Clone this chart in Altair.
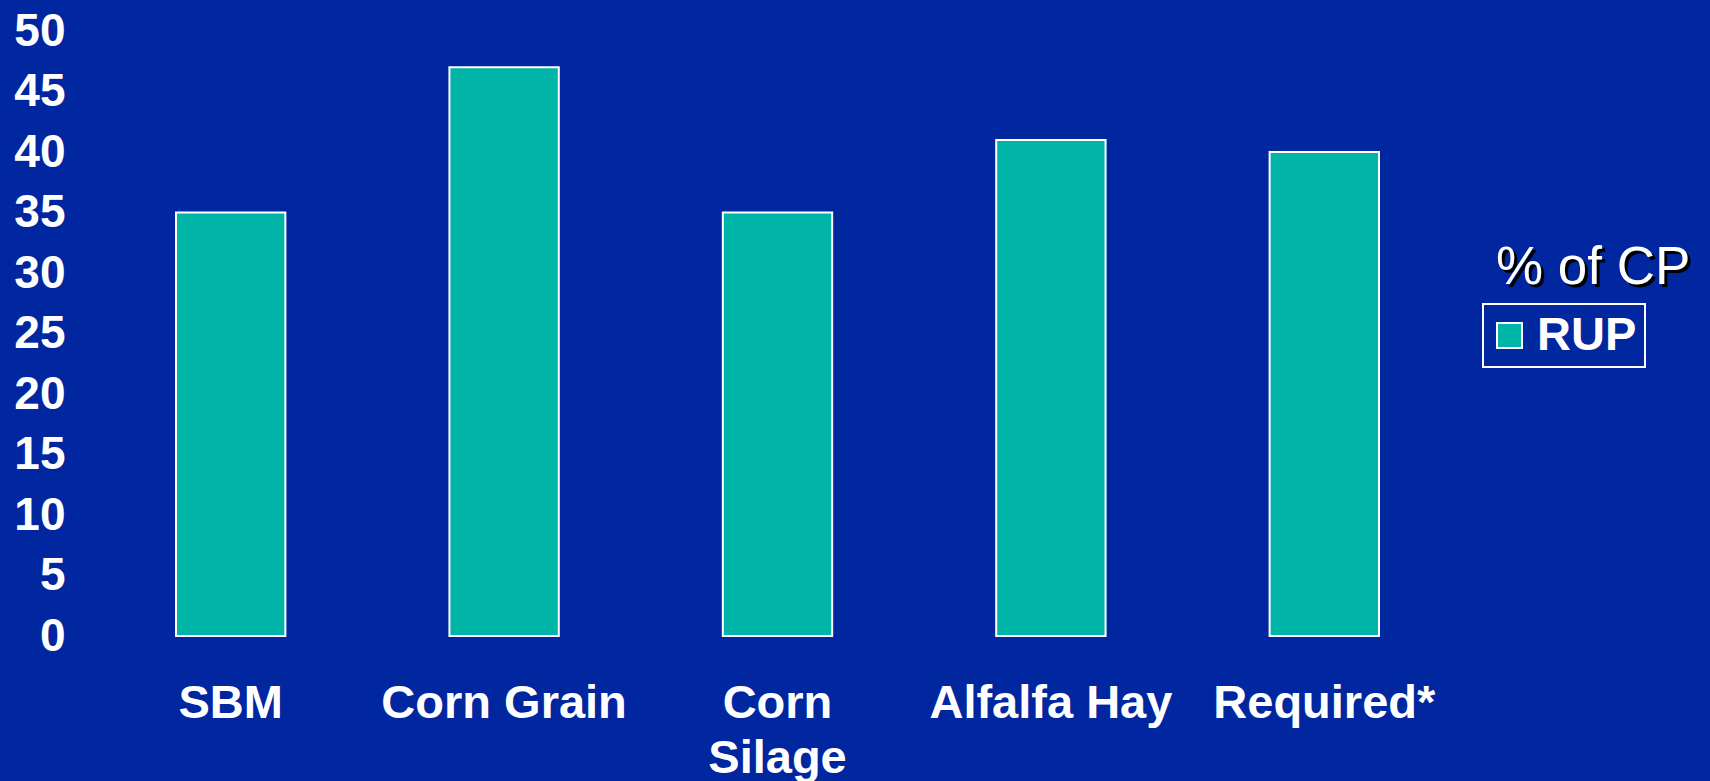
import altair as alt
import pandas as pd

categories = ["SBM", "Corn Grain", "Corn Silage", "Alfalfa Hay", "Required*"]
rup_values = [35, 47, 35, 41, 40]
series_name = "RUP"
legend_title = "% of CP"
y_ticks = [0, 5, 10, 15, 20, 25, 30, 35, 40, 45, 50]

BG = "#0026A0"
TEAL = "#00B5A8"
FONT = "Liberation Sans"

df = pd.DataFrame({"cat": categories, "val": rup_values, "series": [series_name] * len(categories)})

W, H = 1367, 605

bars = alt.Chart(df).mark_bar(stroke="white", strokeWidth=2).encode(
    x=alt.X("cat:N", sort=categories,
            scale=alt.Scale(paddingInner=0.6, paddingOuter=0.3),
            axis=alt.Axis(title=None, labelAngle=0, domain=False, ticks=False, tickSize=0,
                          labelPadding=44, labelFont=FONT, labelFontWeight="bold",
                          labelFontSize=47, labelColor="white", labelLimit=0,
                          labelOverlap=False, labelLineHeight=55, labelBaseline="top",
                          labelExpr="datum.label == 'Corn Silage' ? ['Corn', 'Silage'] : datum.label")),
    y=alt.Y("val:Q", scale=alt.Scale(domain=[0, 50], nice=False),
            axis=alt.Axis(title=None, values=y_ticks, domain=False, ticks=False, tickSize=0,
                          grid=False, labelPadding=29, labelFont=FONT, labelFontWeight="bold",
                          labelFontSize=46, labelColor="white")),
    color=alt.Color("series:N", scale=alt.Scale(range=[TEAL]),
                    legend=alt.Legend(title=None, orient="none", legendX=1389, legendY=273,
                                      strokeColor="white", padding=8,
                                      symbolType="square", symbolSize=625, symbolOffset=-5,
                                      symbolStrokeColor="white", symbolStrokeWidth=2,
                                      labelFont=FONT, labelFontWeight="bold", labelFontSize=47,
                                      labelColor="white", labelOffset=4)),
)

title_df = pd.DataFrame({"t": [legend_title]})
shadow = alt.Chart(title_df).mark_text(
    align="left", baseline="alphabetic", font=FONT, fontSize=53, color="black", dx=3, dy=3
).encode(text="t:N", x=alt.value(1402), y=alt.value(253))
title_txt = alt.Chart(title_df).mark_text(
    align="left", baseline="alphabetic", font=FONT, fontSize=53, color="white"
).encode(text="t:N", x=alt.value(1402), y=alt.value(253))

chart = alt.layer(bars, shadow, title_txt).properties(
    width=W, height=H, background=BG,
    autosize=alt.AutoSizeParams(type="none"),
    padding={"left": 94, "top": 31, "right": 249, "bottom": 145},
).configure_view(stroke=None).configure_legend(strokeWidth=2)

chart.save("out.html", embed_options={"renderer": "svg", "actions": False})
